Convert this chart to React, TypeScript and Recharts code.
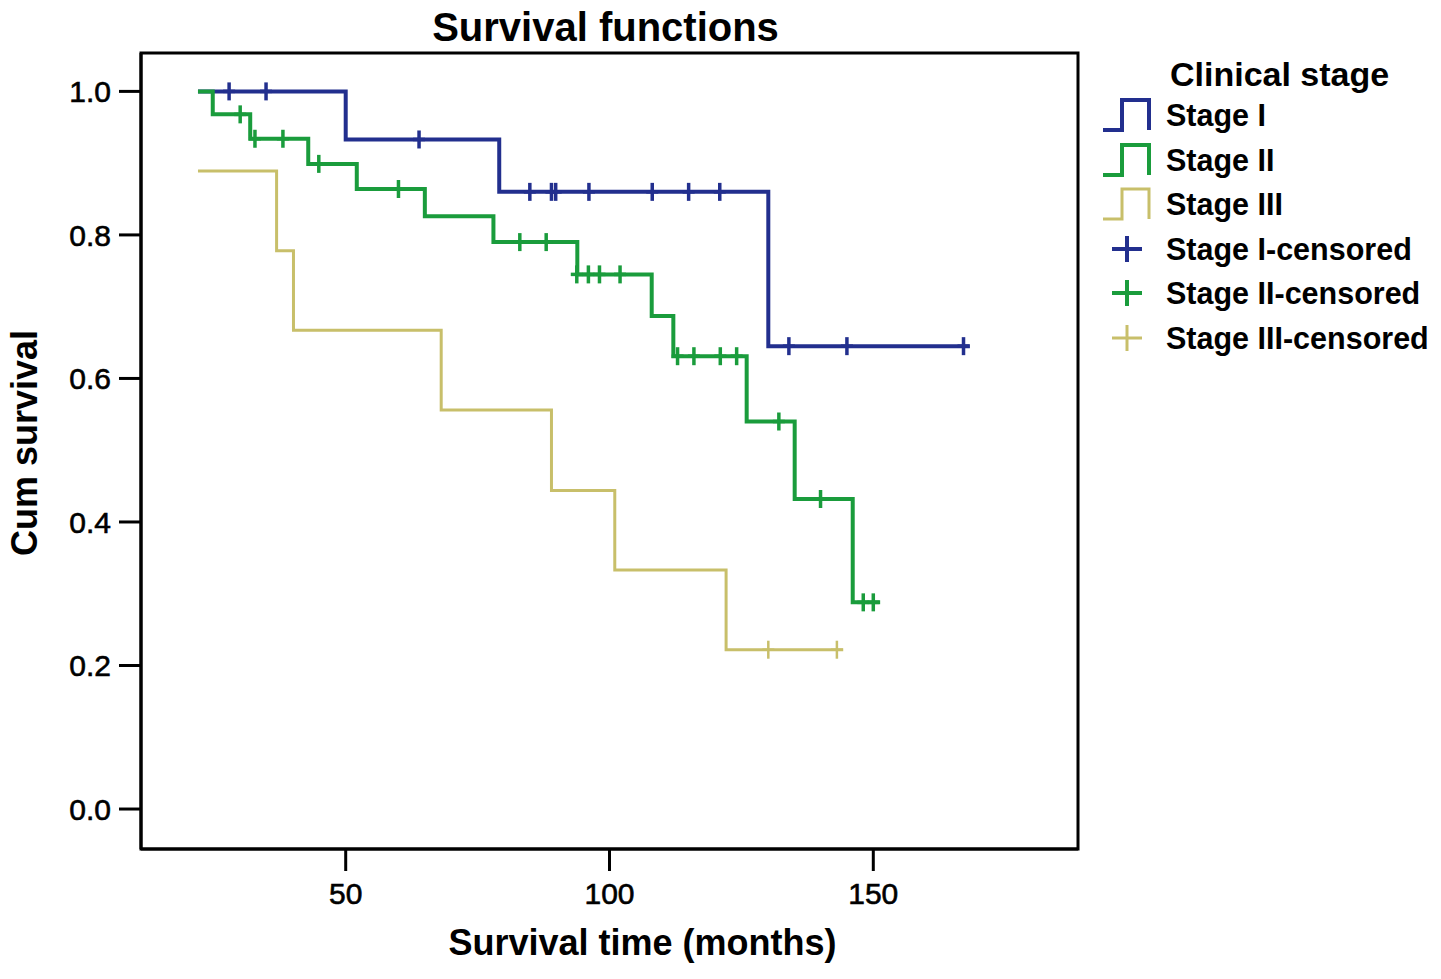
import React from "react";
import {
  ComposedChart,
  Line,
  Scatter,
  XAxis,
  YAxis,
  ReferenceArea,
  Legend,
  Label,
} from "recharts";

const FONT = '"Liberation Sans", Arial, Helvetica, sans-serif';

// Kaplan-Meier steps (time in months, cumulative survival)
const stage1Times = [22, 50, 79.1, 130.1, 168.3];
const stage1Surv = [1.0, 0.933, 0.86, 0.645, 0.645];
const stage1CensorTimes = [27.9, 34.9, 63.9, 84.9, 89.0, 89.8, 96.1, 108.1, 115.0, 120.9, 134.0, 145.0, 167.1];
const stage1CensorSurv = [1.0, 1.0, 0.933, 0.86, 0.86, 0.86, 0.86, 0.86, 0.86, 0.86, 0.645, 0.645, 0.645];

const stage2Times = [22, 24.8, 31.9, 42.9, 52.1, 65.0, 78.0, 93.9, 108.0, 112.1, 126.0, 135.1, 146.1, 151.3];
const stage2Surv = [1.0, 0.968, 0.934, 0.899, 0.864, 0.826, 0.79, 0.745, 0.687, 0.631, 0.54, 0.432, 0.288, 0.288];
const stage2CensorTimes = [30.0, 32.8, 38.1, 44.9, 60.0, 83.0, 88.0, 93.8, 96.0, 98.1, 102.0, 112.9, 116.0, 121.0, 124.1, 132.1, 140.0, 148.1, 150.0];
const stage2CensorSurv = [0.968, 0.934, 0.934, 0.899, 0.864, 0.79, 0.79, 0.745, 0.745, 0.745, 0.745, 0.631, 0.631, 0.631, 0.631, 0.54, 0.432, 0.288, 0.288];

const stage3Times = [22, 36.9, 40.1, 68.1, 89.0, 101.0, 122.1, 144.3];
const stage3Surv = [0.889, 0.778, 0.667, 0.556, 0.444, 0.333, 0.222, 0.222];
const stage3CensorTimes = [130.1, 143.1];
const stage3CensorSurv = [0.222, 0.222];

const xTicks = [50, 100, 150];
const yTicks = [0, 0.2, 0.4, 0.6, 0.8, 1.0];
const xDomain = [11.2, 188.8];
const yDomain = [-0.0557, 1.0535];

const stageNames = ["Stage I", "Stage II", "Stage III"];
const stageColors = ["#222f8e", "#1a9c3c", "#c8bf6a"];
const stageWidths = [4, 4, 3];

const toPoints = (times: number[], surv: number[]) =>
  times.map((t, i) => ({ t, s: surv[i] }));

const curves = [
  toPoints(stage1Times, stage1Surv),
  toPoints(stage2Times, stage2Surv),
  toPoints(stage3Times, stage3Surv),
];
const censors = [
  toPoints(stage1CensorTimes, stage1CensorSurv),
  toPoints(stage2CensorTimes, stage2CensorSurv),
  toPoints(stage3CensorTimes, stage3CensorSurv),
];

function censorShape(color: string, width: number) {
  return (props: any) => {
    const { cx, cy } = props;
    return (
      <g>
        <line x1={cx} x2={cx} y1={cy - 9} y2={cy + 9} stroke={color} strokeWidth={width} />
        <line x1={cx - 6} x2={cx + 6} y1={cy} y2={cy} stroke={color} strokeWidth={width} />
      </g>
    );
  };
}

function StageLegend() {
  const rows = [
    ...stageNames.map((name, i) => ({ name, color: stageColors[i], w: stageWidths[i], step: true })),
    ...stageNames.map((name, i) => ({ name: `${name}-censored`, color: stageColors[i], w: stageWidths[i], step: false })),
  ];
  return (
    <div style={{ fontFamily: FONT, color: "#000" }}>
      <div style={{ paddingLeft: 70, height: 37, lineHeight: "37px", fontSize: 34, fontWeight: "bold" }}>
        Clinical stage
      </div>
      {rows.map((r) => (
        <div key={r.name} style={{ display: "flex", alignItems: "center", height: 44.5 }}>
          <svg width={66} height={44} style={{ flex: "none" }}>
            {r.step ? (
              <path d="M3,37 H22 V7 H49 V37" fill="none" stroke={r.color} strokeWidth={r.w} />
            ) : (
              <g stroke={r.color} strokeWidth={r.w}>
                <line x1={12} x2={42} y1={22} y2={22} />
                <line x1={27} x2={27} y1={9} y2={35} />
              </g>
            )}
          </svg>
          <span style={{ fontSize: 30.5, fontWeight: "bold", lineHeight: "44px", whiteSpace: "nowrap" }}>
            {r.name}
          </span>
        </div>
      ))}
    </div>
  );
}

export default function App() {
  const tickStyle = { fontSize: 30, fill: "#000", stroke: "#000", strokeWidth: 0.6, fontFamily: FONT };
  return (
    <div style={{ width: 1441, height: 979, background: "#fff" }}>
      <style>{"body{margin:0;}"}</style>
      <ComposedChart
        width={1441}
        height={979}
        margin={{ top: 53, right: 363, bottom: 0, left: 0 }}
        style={{ fontFamily: FONT }}
      >
        <XAxis
          type="number"
          dataKey="t"
          domain={xDomain}
          allowDataOverflow
          ticks={xTicks}
          height={130}
          tickSize={22}
          tickMargin={12}
          tick={tickStyle}
          tickLine={{ stroke: "#000", strokeWidth: 3 }}
          axisLine={{ stroke: "#000", strokeWidth: 3 }}
        >
          <Label
            value="Survival time (months)"
            position="insideBottom"
            offset={24}
            dx={33}
            style={{ fontSize: 36, fontWeight: "bold", fill: "#000", fontFamily: FONT }}
          />
        </XAxis>
        <YAxis
          type="number"
          dataKey="s"
          domain={yDomain}
          allowDataOverflow
          ticks={yTicks}
          width={141}
          tickSize={22}
          tickMargin={8}
          tick={tickStyle}
          tickFormatter={(v: number) => v.toFixed(1)}
          tickLine={{ stroke: "#000", strokeWidth: 3 }}
          axisLine={{ stroke: "#000", strokeWidth: 3 }}
        >
          <Label
            value="Cum survival"
            angle={-90}
            position="insideLeft"
            offset={24}
            dy={-8}
            style={{ fontSize: 36, fontWeight: "bold", fill: "#000", fontFamily: FONT, textAnchor: "middle" }}
          />
        </YAxis>
        <ReferenceArea
          x1={xDomain[0]}
          x2={xDomain[1]}
          y1={yDomain[0]}
          y2={yDomain[1]}
          fill="none"
          fillOpacity={0}
          stroke="#000"
          strokeWidth={3}
          strokeOpacity={1}
        >
          <Label
            value="Survival functions"
            position="top"
            offset={12}
            dx={-4}
            style={{ fontSize: 40, fontWeight: "bold", fill: "#000", fontFamily: FONT }}
          />
        </ReferenceArea>
        {curves.map((d, i) => (
          <Line
            key={stageNames[i]}
            data={d}
            dataKey="s"
            type="stepAfter"
            stroke={stageColors[i]}
            strokeWidth={stageWidths[i]}
            dot={false}
            activeDot={false}
            isAnimationActive={false}
            legendType="none"
          />
        ))}
        {censors.map((d, i) => (
          <Scatter
            key={`${stageNames[i]}-censored`}
            data={d}
            dataKey="s"
            shape={censorShape(stageColors[i], stageWidths[i] - 0.5)}
            isAnimationActive={false}
            legendType="none"
          />
        ))}
        <Legend
          layout="vertical"
          align="center"
          verticalAlign="middle"
          content={() => <StageLegend />}
          wrapperStyle={{ left: 1100, top: 56, width: 341 }}
        />
      </ComposedChart>
    </div>
  );
}
